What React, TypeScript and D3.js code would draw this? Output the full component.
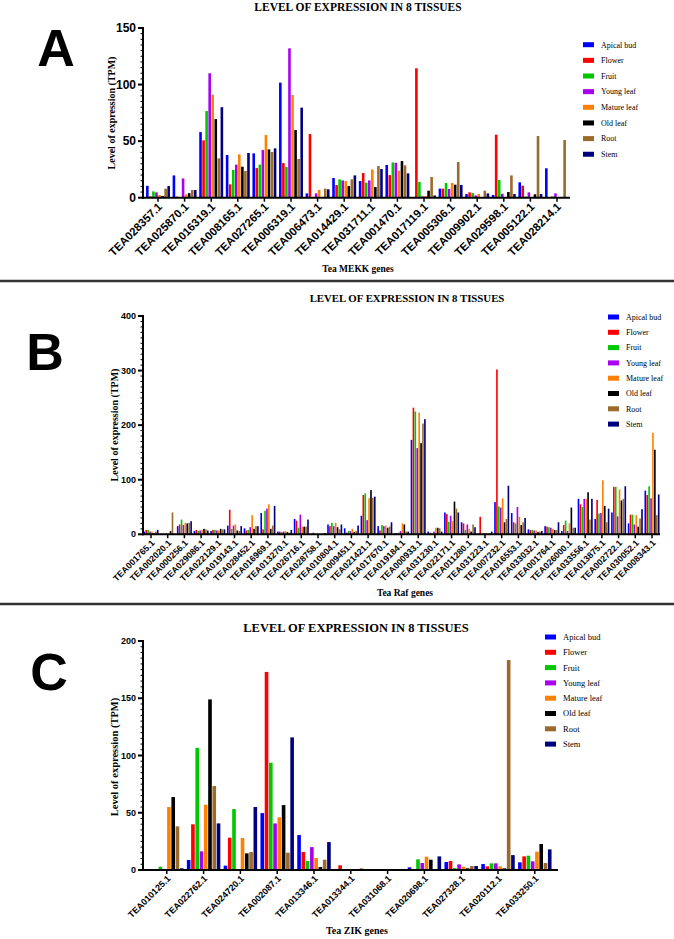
import React from "react";
import * as d3 from "d3";

// tissues + colours shared by all three panels
const tissues = ["Apical bud", "Flower", "Fruit", "Young leaf", "Mature leaf", "Old leaf", "Root", "Stem"];
const tissueColors = ["#0000ff", "#ff0000", "#00c800", "#a800f0", "#ff8000", "#000000", "#9c6a2a", "#00007f"];

// ---- panel A : MEKK ----
const mekkGenes = ["TEA028357.1", "TEA025870.1", "TEA016319.1", "TEA008165.1", "TEA027265.1", "TEA006319.1", "TEA006473.1", "TEA014429.1",
  "TEA031711.1", "TEA001470.1", "TEA017119.1", "TEA005306.1", "TEA009902.1", "TEA029598.1", "TEA005122.1", "TEA028214.1"];
const mekkApical = [10.5, 19.7, 58, 37.7, 39.2, 101.7, 3.8, 17.4, 14.7, 28.9, 0.5, 8, 3.2, 2.4, 13.6, 26];
const mekkFlower = [1.2, 1, 50.7, 11.8, 26.2, 30.6, 56.3, 11.2, 21.8, 20, 114.4, 8, 4.7, 55.7, 10.6, 0.3];
const mekkFruit = [5.6, 0.3, 76.6, 24.5, 29.2, 27.1, 0, 16.2, 13.3, 31.2, 13.9, 13, 4.1, 15.6, 1, 1.2];
const mekkYoung = [4.7, 17, 110, 29.2, 42.1, 132, 3.8, 15.3, 15.3, 30.9, 1.2, 7.7, 2, 3.5, 4.7, 3.8];
const mekkMature = [2.4, 3, 91, 38.3, 55.4, 90.8, 6.8, 14.7, 25, 23.9, 1.5, 13, 3.2, 0.3, 0.3, 0.3];
const mekkOld = [1.5, 4, 69.5, 27.4, 42.7, 59.8, 0.3, 10.3, 9.4, 32.4, 6.2, 11.5, 0.3, 5, 3, 0.3];
const mekkRoot = [8, 6.8, 34.8, 23.6, 40.4, 34.2, 8, 16.2, 28, 28.6, 18.3, 31.5, 6.2, 19.7, 54.5, 51];
const mekkStem = [10.3, 6.8, 80, 39.5, 43.6, 79.6, 7.4, 19.7, 25.3, 21.5, 2, 11.2, 3.8, 3.2, 3.2, 0.3];
const mekkTicks = [0, 50, 100, 150];

// ---- panel B : Raf ----
const rafGenes = ["TEA001765.1", "TEA002020.1", "TEA000256.1", "TEA029086.1", "TEA022129.1", "TEA019143.1", "TEA028452.1", "TEA016969.1",
  "TEA013270.1", "TEA026716.1", "TEA028758.1", "TEA010804.1", "TEA009451.1", "TEA021421.1", "TEA017670.1", "TEA019184.1", "TEA000933.1",
  "TEA031230.1", "TEA022171.1", "TEA011280.1", "TEA031223.1", "TEA007232.1", "TEA016553.1", "TEA033032.1", "TEA001764.1", "TEA026000.1",
  "TEA033556.1", "TEA013875.1", "TEA002722.1", "TEA030052.1", "TEA008343.1"];
const rafApical = [5, 1, 15, 6, 6, 16, 11, 39, 5, 28, 0.5, 18, 11, 34, 15, 2, 173, 5, 40, 22, 1, 59, 39, 9, 15, 6, 65, 28, 40, 20, 80];
const rafFlower = [8, 1, 18, 8, 8, 45, 7, 9, 5, 25, 3, 15, 3, 72, 7, 2, 232, 3, 37, 20, 32, 302, 22, 8, 14, 17, 55, 63, 87, 36, 72];
const rafFruit = [8, 1, 27, 6, 8, 10, 8, 43, 4, 12, 0.5, 21, 6, 75, 17, 3, 225, 1, 23, 8, 1, 51, 20, 8, 13, 25, 50, 38, 87, 36, 88];
const rafYoung = [5, 1, 17, 7, 7, 16, 13, 47, 5, 36, 0.5, 15, 6, 26, 15, 6, 158, 5, 34, 18, 2, 49, 50, 7, 12, 6, 65, 39, 33, 18, 66];
const rafMature = [5, 1, 21, 8, 7, 18, 35, 55, 6, 14, 0.5, 21, 10, 66, 16, 20, 223, 12, 24, 10, 2, 66, 32, 7, 10, 20, 65, 99, 82, 35, 186];
const rafOld = [2, 6, 20, 10, 10, 7, 10, 10, 4, 14, 0.5, 13, 4, 81, 12, 18, 167, 12, 60, 5, 1, 22, 17, 4, 8, 49, 77, 52, 62, 14, 155];
const rafRoot = [5, 40, 21, 9, 9, 6, 15, 16, 3, 14, 0.5, 9, 6, 67, 14, 5, 203, 11, 47, 18, 1, 28, 22, 5, 8, 12, 27, 22, 65, 29, 35];
const rafStem = [8, 1, 24, 7, 9, 15, 15, 52, 8, 27, 2, 18, 16, 69, 22, 5, 211, 5, 40, 13, 5, 89, 30, 6, 22, 12, 65, 47, 88, 46, 73];
const rafTicks = [0, 100, 200, 300, 400];

// ---- panel C : ZIK ----
const zikGenes = ["TEA010125.1", "TEA022762.1", "TEA024720.1", "TEA002087.1", "TEA013346.1", "TEA013344.1", "TEA031068.1",
  "TEA020698.1", "TEA027328.1", "TEA020112.1", "TEA033250.1"];
const zikApical = [0, 8.7, 3.8, 49.7, 30.5, 0.6, 0.9, 2.3, 7, 5.2, 6.7];
const zikFlower = [0, 39.9, 28.2, 173, 15.7, 4.1, 0, 0.9, 7.9, 3.2, 11.9];
const zikFruit = [2.9, 106.7, 53.2, 93.7, 7.9, 0, 0, 9.3, 1.7, 5.8, 12.5];
const zikYoung = [0.9, 16.3, 0.5, 40.7, 20, 0, 0.5, 6.1, 4.9, 5.8, 7.6];
const zikMature = [55, 57, 27.9, 46, 10.5, 0, 0, 11.6, 2.9, 3.2, 16];
const zikOld = [63.7, 149, 14.5, 56.7, 2.6, 0, 0, 9, 1.5, 1.5, 22.7];
const zikRoot = [38.1, 73.4, 15.7, 15.1, 9, 1.5, 0, 0, 3.5, 183.4, 6.1];
const zikStem = [1.5, 40.7, 55, 115.8, 24.4, 0, 0.9, 11.9, 3.5, 13, 18];
const zikTicks = [0, 50, 100, 150, 200];

const SERIF = "'Liberation Serif', 'Times New Roman', serif";
const SANS = "'Liberation Sans', Arial, sans-serif";
const TITLE = "LEVEL OF EXPRESSION IN 8 TISSUES";

function Panel(p: any) {
  const x = d3.scaleBand<string>().domain(p.genes).range(p.xRange);
  const gw = x.bandwidth() * p.groupFrac;
  const inner = d3.scaleBand<string>().domain(tissues).range([0, gw]).paddingInner(0.15);
  const y = d3.scaleLinear().domain([0, p.yMax]).range([p.yZero, p.yTop]);
  const ax = p.axisStart;
  const minors = d3.range(0, p.yMax + 0.001, p.minor).filter((v) => !p.yTicks.includes(v));

  return (
    <g>
      <text x={p.titleX} y={p.titleY} textAnchor="middle" fontFamily={SERIF} fontWeight="bold" fontSize={p.titleSize}>{TITLE}</text>
      <text x={p.letterX} y={p.letterY} textAnchor="middle" fontFamily={SANS} fontWeight="bold" fontSize={52}>{p.letter}</text>

      {p.series.map((vals: number[], ti: number) =>
        vals.map((v, gi) => (
          <rect key={ti + "-" + gi}
            x={x(p.genes[gi])! + (x.bandwidth() - gw) / 2 + inner(tissues[ti])!}
            y={y(v)} width={inner.bandwidth()} height={p.yZero - y(v)}
            fill={tissueColors[ti]} />
        ))
      )}

      <line x1={ax} x2={ax} y1={p.yTop - 1} y2={p.yZero + 1} stroke="#000" strokeWidth={2} />
      <line x1={ax - 1} x2={p.axisEnd} y1={p.yZero} y2={p.yZero} stroke="#000" strokeWidth={2} />
      {p.yTicks.map((t: number) => (
        <g key={t}>
          <line x1={ax - 5} x2={ax} y1={y(t)} y2={y(t)} stroke="#000" strokeWidth={2} />
          <text x={ax - 7} y={y(t)} dy="0.35em" textAnchor="end" fontFamily={SANS} fontWeight="bold" fontSize={p.tickSize}>{t}</text>
        </g>
      ))}
      {minors.map((t: number) => (
        <line key={"m" + t} x1={ax - 2.5} x2={ax} y1={y(t)} y2={y(t)} stroke="#000" strokeWidth={1} />
      ))}
      {p.genes.map((g: string) => {
        const cx = x(g)! + x.bandwidth() / 2;
        return (
          <g key={g}>
            <line x1={cx} x2={cx} y1={p.yZero} y2={p.yZero + 4} stroke="#000" strokeWidth={1.5} />
            <text transform={`translate(${cx + 2},${p.yZero + 7}) rotate(-45)`} textAnchor="end" dy="0.35em"
              fontFamily={SANS} fontWeight="bold" fontSize={p.xLabelSize}>{g}</text>
          </g>
        );
      })}
      <text x={p.xTitleX} y={p.xTitleY} textAnchor="middle" fontFamily={SERIF} fontWeight="bold" fontSize={p.xTitleSize}>{p.xTitle}</text>
      <text transform={`translate(${p.yLabelX},${p.yLabelY}) rotate(-90)`} textAnchor="middle" fontFamily={SERIF} fontWeight="bold"
        fontSize={p.yLabelSize}>Level of expression (TPM)</text>

      {tissues.map((t, i) => (
        <g key={t} transform={`translate(${p.legendX},${p.legendY + i * p.legendStep})`}>
          <rect x={0} y={-2.5} width={11} height={5} fill={tissueColors[i]} />
          <text x={18} y={0} dy="0.35em" fontFamily={SERIF} fontSize={p.legendSize}>{t}</text>
        </g>
      ))}
    </g>
  );
}

export default function App() {
  return (
    <svg width={674} height={939} style={{ position: "absolute", left: 0, top: 0, background: "#fff" }}>
      <rect width={674} height={939} fill="#fff" />
      <Panel genes={mekkGenes}
        series={[mekkApical, mekkFlower, mekkFruit, mekkYoung, mekkMature, mekkOld, mekkRoot, mekkStem]}
        yMax={150} yTicks={mekkTicks} minor={5} xRange={[144.7, 570.3]} axisStart={143} axisEnd={570}
        yZero={197.7} yTop={28} groupFrac={0.9}
        titleX={358} titleY={11} titleSize={11.5} letter="A" letterX={56} letterY={66}
        yLabelX={115} yLabelY={113} yLabelSize={10} tickSize={12} xLabelSize={11.3}
        xTitle="Tea MEKK genes" xTitleX={358} xTitleY={272} xTitleSize={9.5}
        legendX={583} legendY={44.7} legendStep={15.65} legendSize={8} />
      <line x1={0} x2={674} y1={281} y2={281} stroke="#333" strokeWidth={2.5} />
      <Panel genes={rafGenes}
        series={[rafApical, rafFlower, rafFruit, rafYoung, rafMature, rafOld, rafRoot, rafStem]}
        yMax={400} yTicks={rafTicks} minor={10} xRange={[142.65, 660.35]} axisStart={143} axisEnd={660}
        yZero={534.3} yTop={316} groupFrac={0.9}
        titleX={407} titleY={302} titleSize={10.8} letter="B" letterX={45} letterY={370}
        yLabelX={118} yLabelY={425} yLabelSize={10} tickSize={9} xLabelSize={8.8}
        xTitle="Tea Raf genes" xTitleX={405} xTitleY={596} xTitleSize={9.5}
        legendX={608} legendY={317} legendStep={15.3} legendSize={8} />
      <line x1={0} x2={674} y1={604} y2={604} stroke="#333" strokeWidth={2.5} />
      <Panel genes={zikGenes}
        series={[zikApical, zikFlower, zikFruit, zikYoung, zikMature, zikOld, zikRoot, zikStem]}
        yMax={200} yTicks={zikTicks} minor={5} xRange={[148.4, 553.2]} axisStart={143} axisEnd={558}
        yZero={870} yTop={641} groupFrac={0.91}
        titleX={356} titleY={632} titleSize={12.5} letter="C" letterX={49} letterY={690}
        yLabelX={118} yLabelY={757} yLabelSize={10.5} tickSize={9} xLabelSize={9}
        xTitle="Tea ZIK genes" xTitleX={357} xTitleY={934} xTitleSize={10}
        legendX={545} legendY={637} legendStep={15.3} legendSize={8.5} />
    </svg>
  );
}
